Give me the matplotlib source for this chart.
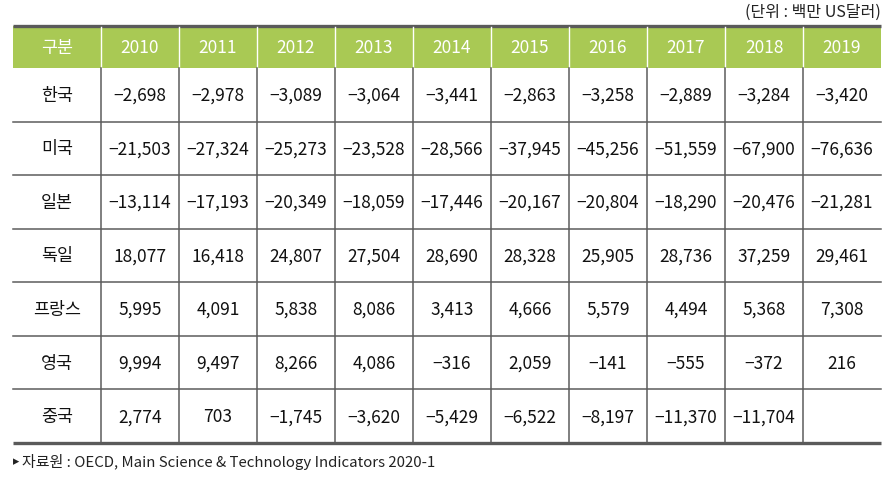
import matplotlib.pyplot as plt

plt.rcParams['font.family'] = ['Noto Sans CJK KR', 'DejaVu Sans']

years = ["2010", "2011", "2012", "2013", "2014", "2015", "2016", "2017", "2018", "2019"]
countries = ["한국", "미국", "일본", "독일", "프랑스", "영국", "중국"]
korea = [-2698, -2978, -3089, -3064, -3441, -2863, -3258, -2889, -3284, -3420]
usa = [-21503, -27324, -25273, -23528, -28566, -37945, -45256, -51559, -67900, -76636]
japan = [-13114, -17193, -20349, -18059, -17446, -20167, -20804, -18290, -20476, -21281]
germany = [18077, 16418, 24807, 27504, 28690, 28328, 25905, 28736, 37259, 29461]
france = [5995, 4091, 5838, 8086, 3413, 4666, 5579, 4494, 5368, 7308]
uk = [9994, 9497, 8266, 4086, -316, 2059, -141, -555, -372, 216]
china = [2774, 703, -1745, -3620, -5429, -6522, -8197, -11370, -11704, None]
rows = [korea, usa, japan, germany, france, uk, china]


def fmt(v):
    if v is None:
        return ""
    s = f"{abs(v):,}"
    return ("\u2212" + s) if v < 0 else s


W, H = 896, 483
fig = plt.figure(figsize=(W / 100, H / 100), dpi=100)
ax = fig.add_axes([0, 0, 1, 1])
ax.set_xlim(0, W)
ax.set_ylim(H, 0)
ax.axis("off")

left, right = 13, 881
first_w = 88
col_w = (right - left - first_w) / len(years)
top, head_bot, bottom = 26, 68, 443
row_h = (bottom - head_bot) / len(rows)
green = "#a9c954"
line_c = "#5c5c5c"

# header
ax.add_patch(plt.Rectangle((left, top), right - left, head_bot - top, color=green, lw=0))
ax.plot([left, right], [top, top], color="#5a5a5a", lw=2.4, solid_capstyle="butt")
ax.text(left + first_w / 2, (top + head_bot) / 2 + 1, "구분", color="white",
        fontsize=12.5, ha="center", va="center")
for i, y in enumerate(years):
    cx = left + first_w + col_w * (i + 0.5)
    ax.text(cx, (top + head_bot) / 2 + 1, y, color="white", fontsize=12.5,
            ha="center", va="center")
    ax.plot([left + first_w + col_w * i] * 2, [top + 1, head_bot], color="white", lw=1)

# body
for r, (name, vals) in enumerate(zip(countries, rows)):
    y0 = head_bot + row_h * r
    cy = y0 + row_h / 2 + 1
    ax.text(left + first_w / 2, cy, name, fontsize=12.5, ha="center", va="center", color="#111111")
    for i, v in enumerate(vals):
        cx = left + first_w + col_w * (i + 0.5)
        ax.text(cx, cy, fmt(v), fontsize=12.5, ha="center", va="center", color="#111111")
    if r > 0:
        ax.plot([left, right], [y0, y0], color=line_c, lw=1.1)

for i in range(len(years)):
    x = left + first_w + col_w * i
    ax.plot([x, x], [head_bot, bottom], color=line_c, lw=1.1)
ax.plot([left, right], [bottom, bottom], color="#5a5a5a", lw=2.4, solid_capstyle="butt")

ax.text(right, 12, "(단위 : 백만 US달러)", fontsize=11.5, ha="right", va="center", color="#222222")
ax.text(left, 462, "▸", fontsize=9, ha="left", va="center", color="#222222",
        family=["DejaVu Sans"])
ax.text(left + 9, 462, "자료원 : OECD, Main Science & Technology Indicators 2020-1",
        fontsize=10.8, ha="left", va="center", color="#222222")

fig.savefig("out.png", dpi=100)
